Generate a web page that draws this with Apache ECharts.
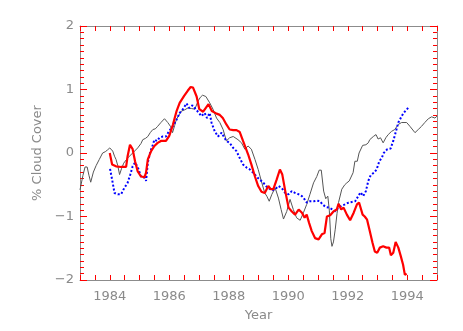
<!DOCTYPE html>
<html>
<head>
<meta charset="utf-8">
<script src="https://cdn.jsdelivr.net/npm/echarts@6/dist/echarts.min.js"></script>
<style>
  html, body { margin: 0; padding: 0; background: #fff; }
  #chart { width: 463px; height: 331px; }
</style>
</head>
<body>
<div id="chart"></div>
<script>
// Axis ranges and labelled ticks
const xRange = [1983, 1995];
const yRange = [-2, 2];
const xTickLabels = [1984, 1986, 1988, 1990, 1992, 1994];
const yTickLabels = [-2, -1, 0, 1, 2];

// Thin grey series: [year, % deviation]
const thinSeries = [
  [1983.0,-0.58],[1983.1,-0.35],[1983.17,-0.22],[1983.24,-0.22],[1983.3,-0.35],[1983.36,-0.46],
  [1983.45,-0.3],[1983.54,-0.2],[1983.65,-0.1],[1983.76,0.0],[1983.85,0.02],[1983.93,0.05],
  [1984.0,0.08],[1984.1,0.03],[1984.16,-0.05],[1984.21,-0.1],[1984.27,-0.2],[1984.33,-0.34],
  [1984.4,-0.24],[1984.47,-0.16],[1984.6,-0.08],[1984.77,0.0],[1984.94,0.08],[1985.05,0.15],
  [1985.11,0.21],[1985.2,0.23],[1985.28,0.26],[1985.36,0.32],[1985.45,0.37],[1985.53,0.38],
  [1985.61,0.42],[1985.72,0.48],[1985.84,0.54],[1985.95,0.48],[1986.04,0.42],[1986.11,0.32],
  [1986.18,0.43],[1986.24,0.53],[1986.33,0.6],[1986.41,0.66],[1986.52,0.68],[1986.63,0.71],
  [1986.75,0.7],[1986.86,0.69],[1986.97,0.82],[1987.05,0.88],[1987.12,0.91],[1987.23,0.89],
  [1987.36,0.79],[1987.47,0.69],[1987.59,0.55],[1987.7,0.48],[1987.81,0.37],[1987.92,0.19],
  [1988.03,0.24],[1988.15,0.26],[1988.31,0.21],[1988.43,0.16],[1988.54,0.06],[1988.65,0.11],
  [1988.76,0.06],[1988.88,-0.1],[1988.99,-0.26],[1989.1,-0.45],[1989.21,-0.63],[1989.28,-0.68],
  [1989.36,-0.76],[1989.45,-0.65],[1989.56,-0.55],[1989.67,-0.71],[1989.76,-0.89],[1989.84,-1.04],
  [1989.95,-0.92],[1990.06,-0.73],[1990.17,-0.89],[1990.28,-1.02],[1990.4,-1.06],[1990.51,-0.94],
  [1990.62,-0.81],[1990.73,-0.65],[1990.85,-0.47],[1990.96,-0.37],[1991.04,-0.27],[1991.11,-0.27],
  [1991.19,-0.6],[1991.26,-0.72],[1991.33,-0.68],[1991.38,-0.9],[1991.43,-1.35],[1991.47,-1.47],
  [1991.52,-1.4],[1991.58,-1.2],[1991.64,-0.95],[1991.69,-0.78],[1991.8,-0.57],[1991.9,-0.5],
  [1991.97,-0.47],[1992.05,-0.44],[1992.11,-0.47],[1992.18,-0.31],[1992.24,-0.13],[1992.32,-0.13],
  [1992.38,0.0],[1992.5,0.12],[1992.61,0.13],[1992.69,0.16],[1992.74,0.21],[1992.8,0.19],
  [1992.86,0.26],[1992.95,0.29],[1993.02,0.22],[1993.1,0.24],[1993.19,0.16],[1993.28,0.24],
  [1993.36,0.29],[1993.47,0.34],[1993.58,0.37],[1993.7,0.45],[1993.81,0.48],[1993.98,0.48],
  [1994.09,0.42],[1994.26,0.32],[1994.37,0.37],[1994.48,0.42],[1994.59,0.48],[1994.71,0.54],
  [1994.82,0.57],[1994.93,0.55],[1995.0,0.58]
];

// Thick red series
const redSeries = [
  [1984.0,0.0],[1984.08,-0.18],[1984.21,-0.21],[1984.38,-0.22],[1984.55,-0.22],[1984.6,-0.05],
  [1984.68,0.13],[1984.77,0.06],[1984.85,-0.13],[1984.94,-0.29],[1985.05,-0.37],[1985.17,-0.38],
  [1985.22,-0.31],[1985.28,-0.1],[1985.39,0.03],[1985.5,0.11],[1985.61,0.16],[1985.72,0.19],
  [1985.89,0.19],[1986.0,0.27],[1986.12,0.44],[1986.24,0.65],[1986.35,0.79],[1986.5,0.9],
  [1986.62,0.98],[1986.72,1.04],[1986.8,1.03],[1986.92,0.89],[1987.01,0.69],[1987.14,0.65],
  [1987.2,0.62],[1987.32,0.77],[1987.43,0.66],[1987.59,0.62],[1987.7,0.6],[1987.8,0.55],
  [1987.92,0.45],[1988.03,0.37],[1988.15,0.36],[1988.26,0.36],[1988.37,0.33],[1988.48,0.19],
  [1988.65,-0.02],[1988.76,-0.18],[1988.88,-0.37],[1988.99,-0.52],[1989.1,-0.61],[1989.21,-0.63],
  [1989.33,-0.52],[1989.41,-0.57],[1989.5,-0.57],[1989.61,-0.42],[1989.72,-0.26],[1989.8,-0.34],
  [1989.9,-0.6],[1990.01,-0.86],[1990.12,-0.92],[1990.23,-0.97],[1990.35,-0.89],[1990.46,-0.94],
  [1990.55,-1.02],[1990.62,-0.97],[1990.7,-1.1],[1990.79,-1.23],[1990.9,-1.34],[1991.02,-1.36],
  [1991.13,-1.28],[1991.22,-1.26],[1991.3,-1.0],[1991.41,-0.98],[1991.52,-0.92],[1991.63,-0.89],
  [1991.69,-0.8],[1991.78,-0.89],[1991.86,-0.86],[1991.97,-0.97],[1992.08,-1.06],[1992.2,-0.94],
  [1992.31,-0.81],[1992.38,-0.78],[1992.43,-0.81],[1992.5,-0.97],[1992.57,-1.0],[1992.65,-1.05],
  [1992.74,-1.23],[1992.83,-1.41],[1992.91,-1.55],[1992.99,-1.57],[1993.08,-1.49],[1993.19,-1.47],
  [1993.3,-1.49],[1993.39,-1.49],[1993.45,-1.61],[1993.53,-1.57],[1993.61,-1.4],[1993.7,-1.49],
  [1993.78,-1.62],[1993.86,-1.76],[1993.92,-1.92],[1993.98,-1.9]
];

// Dotted blue series
const blueSeries = [
  [1984.01,-0.25],[1984.08,-0.42],[1984.16,-0.63],[1984.27,-0.65],[1984.38,-0.65],[1984.49,-0.55],
  [1984.6,-0.47],[1984.69,-0.34],[1984.77,-0.21],[1984.85,-0.15],[1984.94,-0.22],[1985.05,-0.37],
  [1985.17,-0.39],[1985.22,-0.44],[1985.28,-0.15],[1985.37,0.03],[1985.45,0.13],[1985.5,0.21],
  [1985.59,0.19],[1985.67,0.24],[1985.78,0.26],[1985.89,0.26],[1986.0,0.35],[1986.12,0.42],
  [1986.24,0.52],[1986.35,0.63],[1986.46,0.69],[1986.58,0.78],[1986.67,0.71],[1986.78,0.75],
  [1986.89,0.69],[1987.0,0.63],[1987.08,0.58],[1987.19,0.63],[1987.27,0.55],[1987.36,0.63],
  [1987.42,0.48],[1987.53,0.34],[1987.64,0.26],[1987.76,0.32],[1987.83,0.26],[1987.92,0.19],
  [1988.03,0.16],[1988.15,0.08],[1988.26,0.03],[1988.37,-0.08],[1988.48,-0.18],[1988.6,-0.23],
  [1988.71,-0.26],[1988.82,-0.31],[1988.93,-0.37],[1989.04,-0.42],[1989.15,-0.46],[1989.27,-0.53],
  [1989.36,-0.56],[1989.45,-0.59],[1989.56,-0.57],[1989.67,-0.52],[1989.78,-0.55],[1989.9,-0.63],
  [1990.01,-0.65],[1990.12,-0.6],[1990.23,-0.63],[1990.35,-0.65],[1990.46,-0.68],[1990.55,-0.73],
  [1990.62,-0.78],[1990.73,-0.76],[1990.85,-0.76],[1990.96,-0.75],[1991.07,-0.76],[1991.15,-0.81],
  [1991.26,-0.85],[1991.37,-0.86],[1991.49,-0.89],[1991.58,-0.92],[1991.69,-0.86],[1991.8,-0.83],
  [1991.91,-0.81],[1992.03,-0.78],[1992.14,-0.77],[1992.25,-0.76],[1992.35,-0.68],[1992.43,-0.62],
  [1992.52,-0.68],[1992.61,-0.6],[1992.69,-0.44],[1992.77,-0.35],[1992.88,-0.31],[1992.97,-0.26],
  [1993.06,-0.13],[1993.14,-0.08],[1993.21,0.0],[1993.33,0.06],[1993.44,0.07],[1993.53,0.19],
  [1993.62,0.34],[1993.7,0.48],[1993.78,0.55],[1993.86,0.62],[1993.95,0.67],[1994.03,0.71]
];

const axisGrey = '#8c8c8c';
const tickGrey = '#ff0000';
const textGrey = '#8a8a8a';
const font = 'DejaVu Sans';

// Year axes (bottom with labels, top mirrored), ticks every half year
function xAxisDef(pos, showLabels) {
  return {
    type: 'value', position: pos, min: xRange[0], max: xRange[1], interval: 0.5,
    axisLine: { show: true, onZero: false, lineStyle: { color: axisGrey, width: 1 } },
    axisTick: { show: true, inside: true, length: 5, lineStyle: { color: tickGrey, width: 1 } },
    splitLine: { show: false },
    axisLabel: {
      show: showLabels, margin: 10, color: textGrey, fontFamily: font, fontSize: 13,
      formatter: v => xTickLabels.indexOf(Math.round(v * 10) / 10) >= 0 ? String(v) : ''
    },
    name: showLabels ? 'Year' : '', nameLocation: 'middle', nameGap: 29,
    nameTextStyle: { color: textGrey, fontFamily: font, fontSize: 13 }
  };
}

// Value axes: fine ticks every 0.1 on the frame, labels at whole numbers
function yAxisFine(pos, showLabels) {
  return {
    type: 'value', position: pos, min: yRange[0], max: yRange[1], interval: 0.1,
    axisLine: { show: true, onZero: false, lineStyle: { color: axisGrey, width: 1 } },
    axisTick: { show: true, inside: true, length: 4, lineStyle: { color: tickGrey, width: 1 } },
    splitLine: { show: false },
    axisLabel: {
      show: showLabels, margin: 6, color: textGrey, fontFamily: font, fontSize: 13,
      formatter: v => {
        const r = Math.round(v * 10) / 10;
        return yTickLabels.indexOf(r) >= 0 ? String(r).replace('-', '\u2212') : '';
      }
    },
    name: showLabels ? '% Cloud Cover' : '', nameLocation: 'middle', nameGap: 36, nameRotate: 90,
    nameTextStyle: { color: textGrey, fontFamily: font, fontSize: 13 }
  };
}

// Longer ticks at whole numbers
function yAxisMajor(pos) {
  return {
    type: 'value', position: pos, min: yRange[0], max: yRange[1], interval: 1,
    axisLine: { show: false, onZero: false },
    axisTick: { show: true, inside: true, length: 7, lineStyle: { color: tickGrey, width: 1 } },
    axisLabel: { show: false },
    splitLine: { show: false }
  };
}

const chart = echarts.init(document.getElementById('chart'));
chart.setOption({
  animation: false,
  grid: { left: 80, right: 26, top: 26, bottom: 51 },
  xAxis: [xAxisDef('bottom', true), xAxisDef('top', false)],
  yAxis: [yAxisFine('left', true), yAxisFine('right', false), yAxisMajor('left'), yAxisMajor('right')],
  series: [
    {
      type: 'line', data: thinSeries, showSymbol: false, symbol: 'none',
      lineStyle: { color: '#555555', width: 1 }, z: 2
    },
    {
      type: 'line', data: blueSeries, showSymbol: false, symbol: 'none',
      lineStyle: { color: '#0000ff', width: 2, type: [2, 2] }, z: 3
    },
    {
      type: 'line', data: redSeries, showSymbol: false, symbol: 'none',
      lineStyle: { color: '#ff0000', width: 2.2 }, z: 4
    }
  ]
});
</script>
</body>
</html>
